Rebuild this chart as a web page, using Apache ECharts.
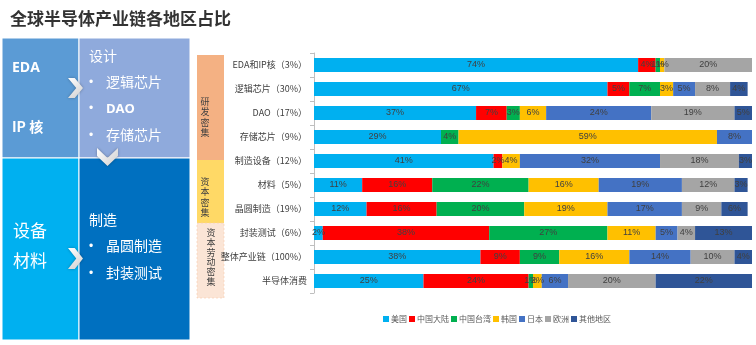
<!DOCTYPE html>
<html><head><meta charset="utf-8">
<script src="https://cdn.jsdelivr.net/npm/echarts@6/dist/echarts.min.js"></script>
<style>html,body{margin:0;padding:0;background:#fff}#c{width:756px;height:345px}</style>
</head><body><div id="c"></div>
<script>
const categories = ['EDA和IP核（3%）','逻辑芯片（30%）','DAO（17%）','存储芯片（9%）','制造设备（12%）','材料（5%）','晶圆制造（19%）','封装测试（6%）','整体产业链（100%）','半导体消费'];
const seriesNames = ['美国','中国大陆','中国台湾','韩国','日本','欧洲','其他地区'];
const usa     = [74,67,37,29,41,11,12, 2,38,25];
const china   = [ 4, 5, 7, 0, 2,16,16,38, 9,24];
const taiwan  = [ 1, 7, 3, 4, 0,22,20,27, 9, 1];
const korea   = [ 1, 3, 6,59, 4,16,19,11,16, 2];
const japan   = [ 0, 5,24, 8,32,19,17, 5,14, 6];
const europe  = [20, 8,19, 0,18,12, 9, 4,10,20];
const others  = [ 0, 4, 5, 0, 3, 3, 6,13, 4,22];
const seriesData = [usa,china,taiwan,korea,japan,europe,others];
const colors = ['#00b0f0','#ff0000','#00b050','#ffc000','#4472c4','#a5a5a5','#2f5597'];

const chart = echarts.init(document.getElementById('c'));
const CJK = '"Noto Sans CJK SC","Noto Sans",sans-serif';

function vtext(s){return s.split('').join('\n');}
function chevronRight(x,y,w,h){
  const t=w*0.45;
  return [[x,y],[x+t,y],[x+w,y+h/2],[x+t,y+h],[x,y+h],[x+w-t,y+h/2]];
}
function chevronDown(x,y,w,h){
  const t=h*0.45;
  return [[x,y],[x+w/2,y+h-t],[x+w,y],[x+w,y+t],[x+w/2,y+h],[x,y+t]];
}
const chevFill = new echarts.graphic.LinearGradient(0,0,1,1,[{offset:0,color:'#ffffff'},{offset:1,color:'#cfcfcf'}]);

const graphics = [
  {type:'rect',shape:{x:2,y:38,width:77,height:120},style:{fill:'#5b9bd5',stroke:'#ffffff',lineWidth:1}},
  {type:'rect',shape:{x:79,y:38,width:111,height:120},style:{fill:'#8faadc',stroke:'#ffffff',lineWidth:1}},
  {type:'rect',shape:{x:2,y:158,width:77,height:182},style:{fill:'#00b0f0',stroke:'#ffffff',lineWidth:1}},
  {type:'rect',shape:{x:79,y:158,width:111,height:182},style:{fill:'#0070c0',stroke:'#ffffff',lineWidth:1}},
  {type:'polygon',shape:{points:chevronRight(68,78,15,20)},style:{fill:chevFill,shadowBlur:3,shadowColor:'rgba(0,0,0,0.3)'}},
  {type:'polygon',shape:{points:chevronRight(68,248,15,21)},style:{fill:chevFill,shadowBlur:3,shadowColor:'rgba(0,0,0,0.3)'}},
  {type:'polygon',shape:{points:chevronDown(97,148,21,18)},style:{fill:chevFill,shadowBlur:3,shadowColor:'rgba(0,0,0,0.3)'}},
  {type:'text',left:12,top:61,style:{text:'EDA',fill:'#fff',font:'bold 14px "Open Sans",sans-serif'}},
  {type:'text',left:12,top:120,style:{text:'IP 核',fill:'#fff',font:'bold 14px '+CJK}},
  {type:'text',left:89,top:49,style:{text:'设计',fill:'#fff',font:'14px '+CJK}},
  {type:'text',left:89,top:77,style:{text:'•',fill:'#fff',font:'12px sans-serif'}},
  {type:'text',left:106,top:75,style:{text:'逻辑芯片',fill:'#fff',font:'14px '+CJK}},
  {type:'text',left:89,top:103,style:{text:'•',fill:'#fff',font:'12px sans-serif'}},
  {type:'text',left:106,top:103,style:{text:'DAO',fill:'#fff',font:'bold 13px "Open Sans",sans-serif'}},
  {type:'text',left:89,top:130,style:{text:'•',fill:'#fff',font:'12px sans-serif'}},
  {type:'text',left:106,top:128,style:{text:'存储芯片',fill:'#fff',font:'14px '+CJK}},
  {type:'text',left:13,top:222,style:{text:'设备',fill:'#fff',font:'17px '+CJK}},
  {type:'text',left:13,top:252,style:{text:'材料',fill:'#fff',font:'17px '+CJK}},
  {type:'text',left:89,top:213,style:{text:'制造',fill:'#fff',font:'14px '+CJK}},
  {type:'text',left:89,top:241,style:{text:'•',fill:'#fff',font:'12px sans-serif'}},
  {type:'text',left:106,top:239,style:{text:'晶圆制造',fill:'#fff',font:'14px '+CJK}},
  {type:'text',left:89,top:268,style:{text:'•',fill:'#fff',font:'12px sans-serif'}},
  {type:'text',left:106,top:266,style:{text:'封装测试',fill:'#fff',font:'14px '+CJK}},
  {type:'rect',shape:{x:197,y:55,width:27,height:105},style:{fill:'#f4b183'}},
  {type:'rect',shape:{x:197,y:160,width:27,height:63},style:{fill:'#ffd966'}},
  {type:'rect',shape:{x:197,y:223,width:27,height:75},style:{fill:'#fbe5d6',stroke:'#f8cbad',lineWidth:0.6,lineDash:[2,2]}},
  {type:'text',x:205,y:117,style:{text:vtext('研发密集'),fill:'#404040',font:'9px '+CJK,lineHeight:10.5,align:'center',verticalAlign:'middle'}},
  {type:'text',x:205,y:197,style:{text:vtext('资本密集'),fill:'#404040',font:'9px '+CJK,lineHeight:10.5,align:'center',verticalAlign:'middle'}},
  {type:'text',x:211,y:257,style:{text:vtext('资本劳动密集'),fill:'#404040',font:'9px '+CJK,lineHeight:9.8,align:'center',verticalAlign:'middle'}}
];

const series = seriesNames.map((n,i)=>({
  name:n,type:'bar',stack:'total',barWidth:14,
  itemStyle:{color:colors[i]},
  label:{show:true,position:'inside',fontSize:9,color:'#404040',fontFamily:'"Liberation Sans",sans-serif',
    formatter:p=>p.value>0?p.value+'%':''},
  data:seriesData[i]
}));

chart.setOption({
  animation:false,
  title:{text:'全球半导体产业链各地区占比',left:5,top:5,textStyle:{fontSize:17,fontWeight:'bold',color:'#333',fontFamily:CJK}},
  color:colors,
  grid:{left:314,right:4,top:53,height:240,containLabel:false},
  legend:{data:seriesNames,left:378,top:310,itemWidth:6,itemHeight:6,itemGap:2,icon:'rect',
    textStyle:{fontSize:8,color:'#595959',fontFamily:CJK,padding:[0,0,0,-3]}},
  xAxis:{type:'value',min:0,max:100,show:false},
  yAxis:{type:'category',inverse:true,data:categories,
    axisLine:{show:true,lineStyle:{color:'#bfbfbf'}},
    axisTick:{show:true,length:4,lineStyle:{color:'#bfbfbf'}},
    axisLabel:{fontSize:9,color:'#404040',fontFamily:CJK,margin:7}},
  graphic:graphics,
  series:series
});
</script></body></html>
